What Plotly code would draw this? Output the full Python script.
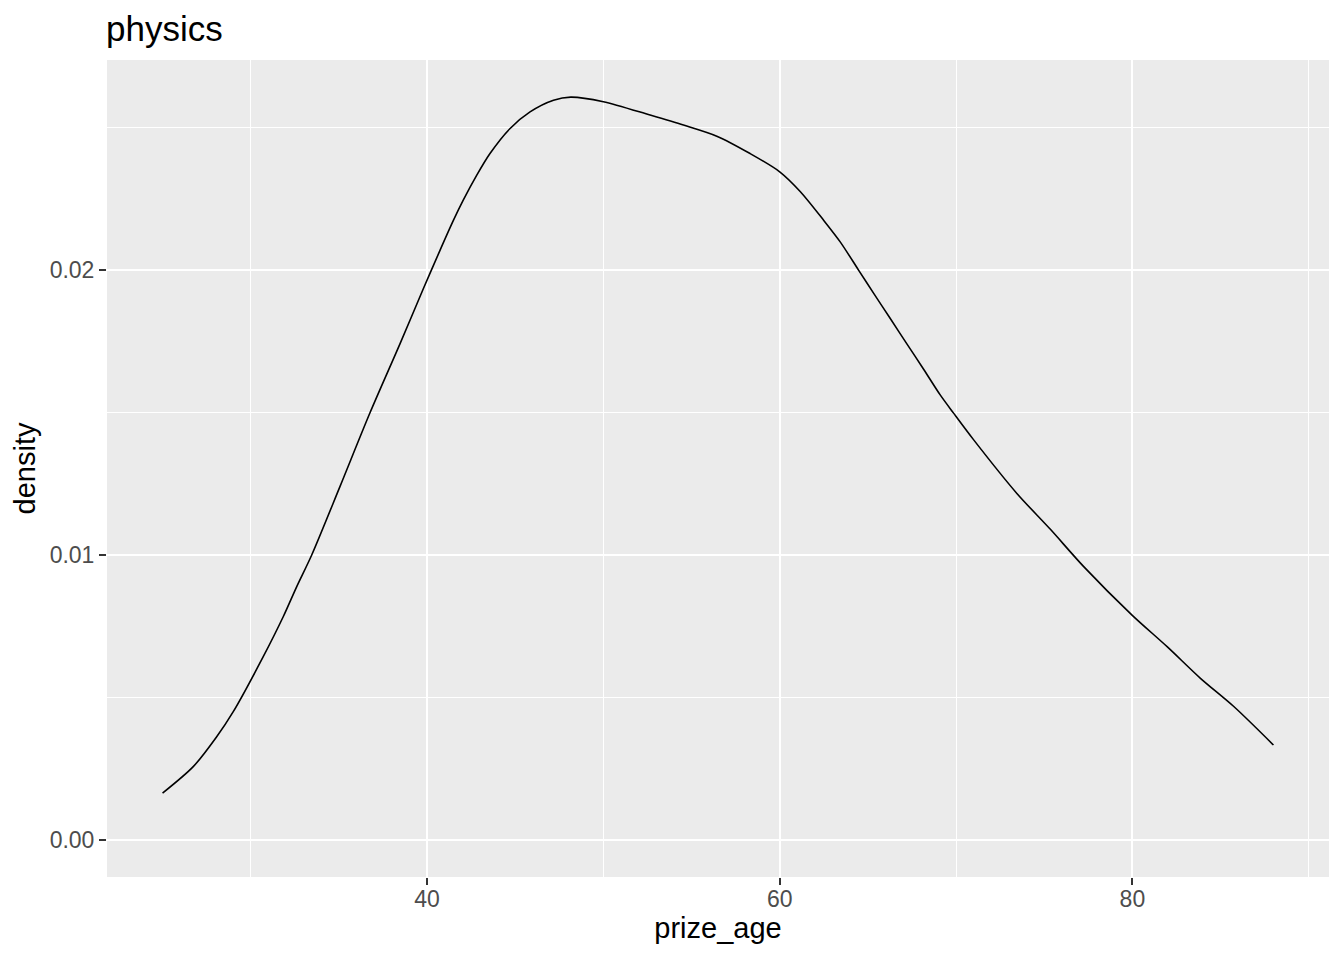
import plotly.graph_objects as go

# Kernel density of physics prize ages
prize_age = [25.0, 26.74, 28.07, 29.01, 30.71, 31.85, 32.61, 33.46, 35.06, 36.77,
             38.47, 39.8, 40.74, 41.5, 42.06, 42.82, 43.57, 44.71, 45.84, 47.17,
             48.15, 50.0, 52.65, 54.54, 56.43, 58.32, 60.0, 61.16, 62.49, 63.43,
             64.47, 65.33, 66.27, 67.22, 68.16, 69.11, 69.87, 71.0, 73.45, 75.35,
             77.24, 79.98, 81.97, 83.86, 85.75, 88.0]
density = [0.00164, 0.00257, 0.00362, 0.00450, 0.00643, 0.00784, 0.00889, 0.01000, 0.01240, 0.01500,
           0.01742, 0.01936, 0.02070, 0.02175, 0.02246, 0.02333, 0.02409, 0.02497, 0.02555, 0.02596,
           0.02607, 0.02591, 0.02544, 0.02509, 0.02470, 0.02409, 0.02345, 0.02276, 0.02175, 0.02099,
           0.02000, 0.01918, 0.01830, 0.01740, 0.01652, 0.01561, 0.01497, 0.01404, 0.01216, 0.01090,
           0.00959, 0.00789, 0.00678, 0.00567, 0.00468, 0.00333]

x_ticks = [40, 60, 80]
x_minor = [30, 50, 70, 90]
y_ticks = [0.00, 0.01, 0.02]
y_minor = [0.005, 0.015, 0.025]
y_tick_labels = ["0.00", "0.01", "0.02"]

title_text = "physics"
x_title = "prize_age"
y_title = "density"

FONT = "Liberation Sans, Arial, sans-serif"

# page body has an 8px margin; size the figure so the panel lands where the reference has it
W, H = 1328, 944

xmin, xmax = min(prize_age), max(prize_age)
xpad = (xmax - xmin) * 0.05
ymin, ymax = 0.0, max(density)
ypad = (ymax - ymin) * 0.05

fig = go.Figure()
fig.add_trace(go.Scatter(
    x=prize_age, y=density, mode="lines",
    line=dict(color="black", width=1.6, shape="spline", smoothing=0.8),
    showlegend=False, hoverinfo="x+y",
))

fig.update_layout(
    width=W, height=H,
    margin=dict(l=99, r=7, t=52, b=75),
    paper_bgcolor="white",
    plot_bgcolor="#EBEBEB",
    font=dict(family=FONT, color="black"),
    title=dict(text=title_text, x=98 / W, xanchor="left", xref="container",
               y=1 - 21 / H, yanchor="middle", yref="container",
               font=dict(size=35, color="black", family=FONT)),
    showlegend=False,
)

fig.update_xaxes(
    range=[xmin - xpad, xmax + xpad],
    tickmode="array", tickvals=x_ticks, ticktext=[str(v) for v in x_ticks],
    showgrid=True, gridcolor="white", gridwidth=2,
    minor=dict(tickmode="array", tickvals=x_minor, showgrid=True,
               gridcolor="white", gridwidth=1, ticks=""),
    zeroline=False, showline=False,
    ticks="outside", ticklen=7, tickwidth=2, tickcolor="#333333",
    ticklabelstandoff=-6,
    tickfont=dict(size=23, color="#4D4D4D", family=FONT),
    title=dict(text=x_title, font=dict(size=29, color="black", family=FONT), standoff=7),
)

fig.update_yaxes(
    range=[ymin - ypad, ymax + ypad],
    tickmode="array", tickvals=y_ticks, ticktext=y_tick_labels,
    showgrid=True, gridcolor="white", gridwidth=2,
    minor=dict(tickmode="array", tickvals=y_minor, showgrid=True,
               gridcolor="white", gridwidth=1, ticks=""),
    zeroline=False, showline=False,
    ticks="outside", ticklen=7, tickwidth=2, tickcolor="#333333",
    tickfont=dict(size=23, color="#4D4D4D", family=FONT),
    title=dict(text=y_title, font=dict(size=29, color="black", family=FONT), standoff=5),
)

fig.write_html("out.html")
